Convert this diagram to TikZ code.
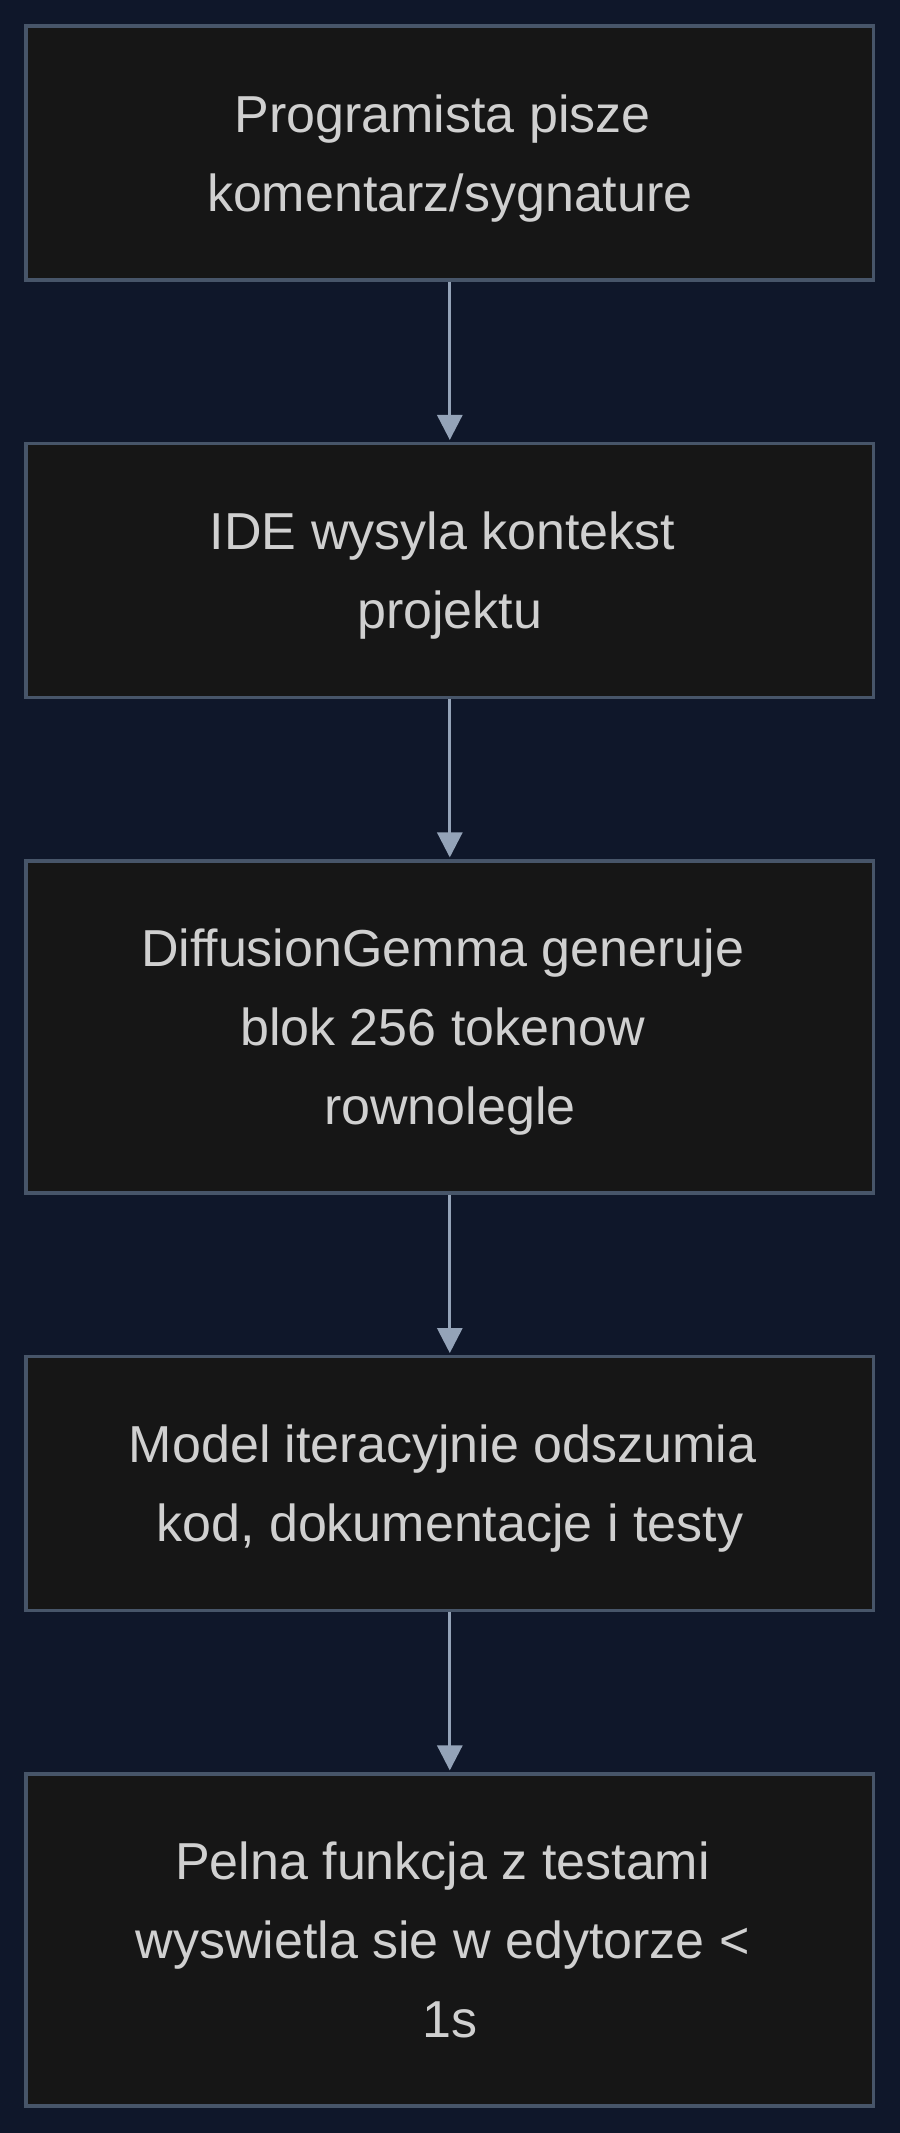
\documentclass[tikz,border=0pt]{standalone}
\usepackage{fontspec}
\setmainfont{Liberation Sans}
\usetikzlibrary{arrows.meta}
\definecolor{bgc}{HTML}{0F172A}
\definecolor{boxfill}{HTML}{161616}
\definecolor{boxline}{HTML}{475569}
\definecolor{arrowc}{HTML}{94A3B8}
\definecolor{txtc}{HTML}{D0D0D0}
\newcommand{\tsp}{\hbox to 0.278em{}}
\tikzset{
  stepbox/.style={draw=boxline, fill=boxfill, line width=3.5bp, minimum width=847.5bp,
    align=center, text=txtc, inner sep=0pt, text depth=0pt,
    font=\fontsize{52bp}{79bp}\selectfont},
  twoline/.style={minimum height=253.9bp},
  threeline/.style={minimum height=332.2bp},
  flowarrow/.style={draw=arrowc, line width=3bp,
    -{Triangle[width=25bp,length=25bp]}, shorten >=1.75bp}
}
\begin{document}
\begin{tikzpicture}[x=1bp,y=-1bp]
\fill[bgc] (0,0) rectangle (900,2133);
\useasboundingbox (0,0) rectangle (900,2133);
\node[stepbox, twoline] (b1) at (449.8,153) {Programista pisze\tsp\\komentarz/sygnature};
\node[stepbox, twoline] (b2) at (449.8,570.4) {IDE wysyla kontekst\tsp\\projektu};
\node[stepbox, threeline] (b3) at (449.8,1027) {DiffusionGemma generuje\tsp\\blok 256 tokenow\tsp\\rownolegle};
\node[stepbox, twoline] (b4) at (449.8,1483.5) {Model iteracyjnie odszumia\tsp\\kod, dokumentacje i testy};
\node[stepbox, threeline] (b5) at (449.8,1940) {Pelna funkcja z testami\tsp\\wyswietla sie w edytorze <\tsp\\1s};
\draw[flowarrow] (b1.south) -- (b2.north);
\draw[flowarrow] (b2.south) -- (b3.north);
\draw[flowarrow] (b3.south) -- (b4.north);
\draw[flowarrow] (b4.south) -- (b5.north);
\end{tikzpicture}
\end{document}
